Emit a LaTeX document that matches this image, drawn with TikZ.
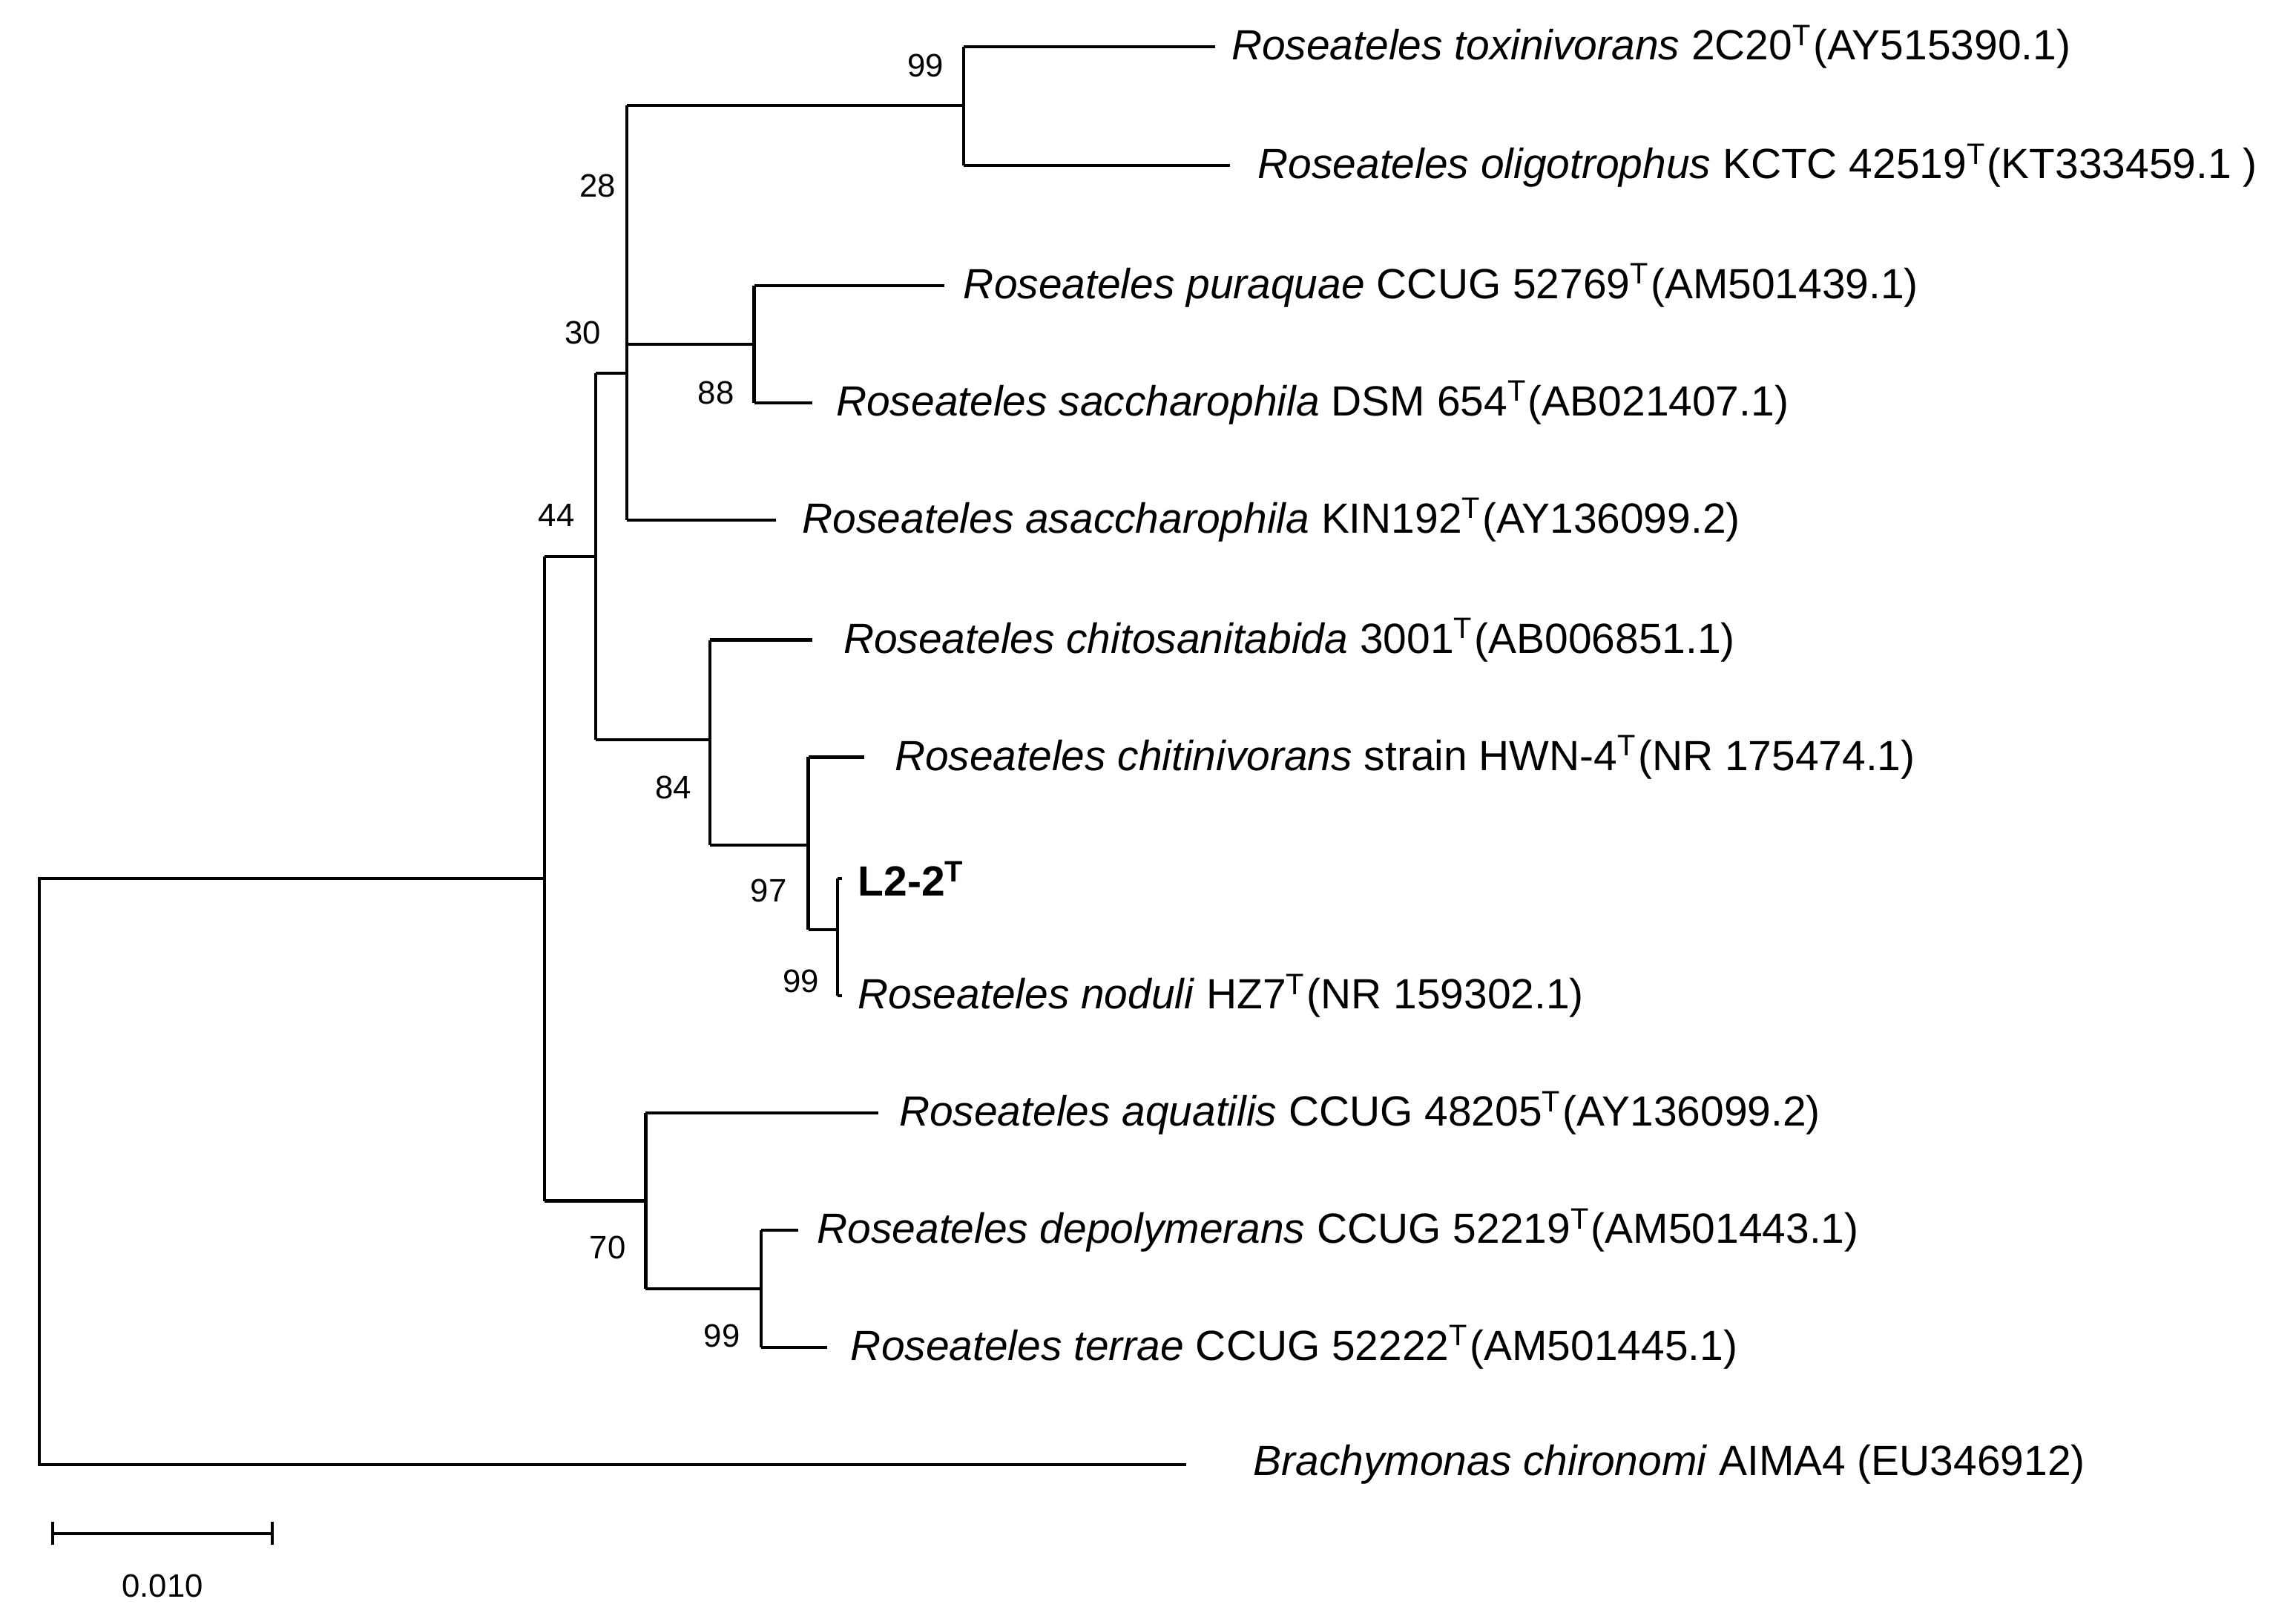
\documentclass[tikz,border=0pt]{standalone}
\usepackage{fontspec}
\setmainfont{Liberation Sans}
\begin{document}
\begin{tikzpicture}[x=0.01cm,y=-0.01cm,line width=0.6pt,
 tx/.style={anchor=west,inner sep=0pt,font=\fontsize{8.2}{9}\selectfont},
 bs/.style={inner sep=0pt,font=\fontsize{6.3}{7}\selectfont}]
\useasboundingbox (0,0) rectangle (1568,1103);
% coordinates
\coordinate (r) at (27,600); \coordinate (rb) at (27,1000);
\coordinate (n44) at (372,600); \coordinate (n44t) at (372,380); \coordinate (n44b) at (372,820);
\coordinate (n30t) at (407,255); \coordinate (n30b) at (407,505);
\coordinate (n28m) at (428,235); \coordinate (n28t) at (428,72); \coordinate (n28b) at (428,355);
\coordinate (n99at) at (658,32); \coordinate (n99ab) at (658,113);
\coordinate (n88t) at (515,195); \coordinate (n88b) at (515,275);
\coordinate (n84t) at (485,437); \coordinate (n84b) at (485,577);
\coordinate (n97t) at (552,517); \coordinate (n97b) at (552,635);
\coordinate (n99bt) at (572,600); \coordinate (n99bb) at (572,680);
\coordinate (n70t) at (441,760); \coordinate (n70b) at (441,880);
\coordinate (n99ct) at (520,840); \coordinate (n99cb) at (520,920);
% labels
\node[tx] (t1) at (840,32) {\textit{Roseateles toxinivorans} 2C20\textsuperscript{T}(AY515390.1)};
\node[tx] (t2) at (858,113) {\textit{Roseateles oligotrophus} KCTC 42519\textsuperscript{T}(KT333459.1 )};
\node[tx] (t3) at (657,195) {\textit{Roseateles puraquae} CCUG 52769\textsuperscript{T}(AM501439.1)};
\node[tx] (t4) at (570,275) {\textit{Roseateles saccharophila} DSM 654\textsuperscript{T}(AB021407.1)};
\node[tx] (t5) at (547,355) {\textit{Roseateles asaccharophila} KIN192\textsuperscript{T}(AY136099.2)};
\node[tx] (t6) at (575,437) {\textit{Roseateles chitosanitabida} 3001\textsuperscript{T}(AB006851.1)};
\node[tx] (t7) at (610,517) {\textit{Roseateles chitinivorans} strain HWN-4\textsuperscript{T}(NR 175474.1)};
\node[tx] (t8) at (585,600) {\textbf{L2-2\textsuperscript{T}}};
\node[tx] (t9) at (585,680) {\textit{Roseateles noduli} HZ7\textsuperscript{T}(NR 159302.1)};
\node[tx] (t10) at (613,760) {\textit{Roseateles aquatilis} CCUG 48205\textsuperscript{T}(AY136099.2)};
\node[tx] (t11) at (557,840) {\textit{Roseateles depolymerans} CCUG 52219\textsuperscript{T}(AM501443.1)};
\node[tx] (t12) at (580,920) {\textit{Roseateles terrae} CCUG 52222\textsuperscript{T}(AM501445.1)};
\node[tx] (t13) at (855,1000) {\textit{Brachymonas chironomi} AIMA4 (EU346912)};
% tips
\coordinate (e1) at (830,32); \coordinate (e2) at (840,113); \coordinate (e3) at (645,195);
\coordinate (e4) at (555,275); \coordinate (e5) at (530,355); \coordinate (e6) at (555,437);
\coordinate (e7) at (590,517); \coordinate (e8) at (575,600); \coordinate (e9) at (575,680);
\coordinate (e10) at (600,760); \coordinate (e11) at (545,840); \coordinate (e12) at (565,920);
\coordinate (e13) at (810,1000);
% tree
\draw (e13) -- (rb) -- (r) -- (n44);
\draw (n44t) -- (n44b);
\draw (n44t) -- (407,380); \draw (n30t) -- (n30b);
\draw (n30t) -- (428,255); \draw (n28t) -- (n28b);
\draw (n28t) -- (658,72); \draw (n99at) -- (n99ab);
\draw (n99at) -- (e1); \draw (n99ab) -- (e2);
\draw (n28m) -- (515,235); \draw (n88t) -- (n88b);
\draw (n88t) -- (e3); \draw (n88b) -- (e4);
\draw (n28b) -- (e5);
\draw (n30b) -- (485,505); \draw (n84t) -- (n84b);
\draw (n84t) -- (e6); \draw (n84b) -- (552,577);
\draw (n97t) -- (n97b); \draw (n97t) -- (e7);
\draw (n97b) -- (572,635); \draw (n99bt) -- (n99bb);
\draw (n99bt) -- (e8); \draw (n99bb) -- (e9);
\draw (n44b) -- (441,820); \draw (n70t) -- (n70b);
\draw (n70t) -- (e10); \draw (n70b) -- (520,880);
\draw (n99ct) -- (n99cb); \draw (n99ct) -- (e11); \draw (n99cb) -- (e12);
% bootstrap
\node[bs] (b1) at (632,45) {99};
\node[bs] (b2) at (408,127) {28};
\node[bs] (b3) at (398,227) {30};
\node[bs] (b4) at (489,268) {88};
\node[bs] (b5) at (380,352) {44};
\node[bs] (b6) at (460,538) {84};
\node[bs] (b7) at (525,608) {97};
\node[bs] (b8) at (547,670) {99};
\node[bs] (b9) at (415,852) {70};
\node[bs] (b10) at (493,912) {99};
% scale bar
\coordinate (s1) at (36,1047); \coordinate (s2) at (186,1047);
\draw (s1) -- (s2);
\draw (36,1039) -- (36,1055); \draw (186,1039) -- (186,1055);
\node[bs] (sl) at (111,1083) {0.010};
\end{tikzpicture}
\end{document}
